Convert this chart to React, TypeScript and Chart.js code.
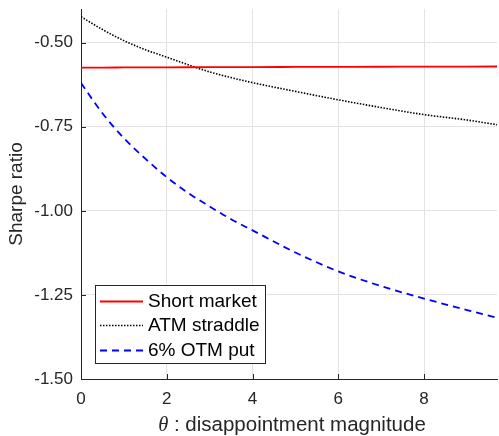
import React, { useEffect, useRef } from 'react';
import { Chart, registerables } from 'chart.js';

Chart.register(...registerables);

// ---- data ----
const theta = [0, 0.5, 1, 1.5, 2, 2.5, 3, 3.5, 4, 5, 6, 7, 8, 9, 9.7];
const shortMarket = [-0.574, -0.574, -0.5738, -0.5736, -0.5734, -0.5732, -0.573, -0.5728, -0.5726, -0.5723, -0.572, -0.5717, -0.5715, -0.5712, -0.571];
const atmStraddle = [-0.423, -0.461, -0.494, -0.521, -0.543, -0.566, -0.587, -0.604, -0.619, -0.645, -0.67, -0.693, -0.714, -0.73, -0.744];
const otmPut = [-0.62, -0.71, -0.784, -0.845, -0.9, -0.947, -0.987, -1.025, -1.058, -1.124, -1.18, -1.224, -1.261, -1.295, -1.318];

const seriesLabels = ['Short market', 'ATM straddle', '6% OTM put'];
const xTicks = [0, 2, 4, 6, 8];
const yTicks = [-1.5, -1.25, -1.0, -0.75, -0.5];
const xRange = [0, 9.7];
const yRange = [-1.5, -0.4];
const yTitle = 'Sharpe ratio';
const xTitleSymbol = 'θ';
const xTitleRest = ' : disappointment magnitude';

const SANS = '"Liberation Sans", Arial, Helvetica, sans-serif';
const AXIS = '#262626';

const colors = ['#ff0000', '#000000', '#0000ff'];
const dashes: number[][] = [[], [1.5, 1.5], [7, 5]];
const widths = [1.8, 1.6, 1.8];

const decorPlugin = {
  id: 'decor',
  afterDatasetsDraw(chart: any) {
    const { ctx, chartArea } = chart;
    // legend box
    const bx = chartArea.left + 14;
    const by = chartArea.bottom - 94;
    const bw = 171;
    const bh = 79;
    ctx.save();
    ctx.fillStyle = '#ffffff';
    ctx.fillRect(bx, by, bw, bh);
    ctx.strokeStyle = AXIS;
    ctx.lineWidth = 1;
    ctx.setLineDash([]);
    ctx.strokeRect(bx + 0.5, by + 0.5, bw - 1, bh - 1);
    const rows = [16, 40, 65];
    ctx.font = `19px ${SANS}`;
    ctx.textBaseline = 'middle';
    ctx.textAlign = 'left';
    seriesLabels.forEach((lab, i) => {
      const yy = by + rows[i] + 0.5;
      ctx.beginPath();
      ctx.strokeStyle = colors[i];
      ctx.lineWidth = widths[i];
      ctx.setLineDash(dashes[i]);
      ctx.moveTo(bx + 5, yy);
      ctx.lineTo(bx + 48, yy);
      ctx.stroke();
      ctx.setLineDash([]);
      ctx.fillStyle = '#000000';
      ctx.fillText(lab, bx + 53, yy);
    });
    ctx.restore();
  },
  afterDraw(chart: any) {
    const { ctx, chartArea, scales } = chart;
    ctx.save();
    ctx.strokeStyle = AXIS;
    ctx.lineWidth = 1;
    ctx.setLineDash([]);
    // inward tick marks
    xTicks.forEach((v) => {
      const px = Math.round(scales.x.getPixelForValue(v)) + 0.5;
      ctx.beginPath();
      ctx.moveTo(px, chartArea.bottom);
      ctx.lineTo(px, chartArea.bottom - 5);
      ctx.stroke();
    });
    yTicks.forEach((v) => {
      const py = Math.round(scales.y.getPixelForValue(v)) + 0.5;
      ctx.beginPath();
      ctx.moveTo(chartArea.left, py);
      ctx.lineTo(chartArea.left + 5, py);
      ctx.stroke();
    });
    // x axis title with italic theta
    const sizeT = 20.5;
    ctx.fillStyle = AXIS;
    ctx.textBaseline = 'alphabetic';
    ctx.textAlign = 'left';
    ctx.font = `italic ${sizeT}px "Liberation Serif", "Times New Roman", serif`;
    const w1 = ctx.measureText(xTitleSymbol).width;
    ctx.font = `${sizeT}px ${SANS}`;
    const w2 = ctx.measureText(xTitleRest).width;
    const cx = (chartArea.left + chartArea.right) / 2 + 3;
    const start = cx - (w1 + w2) / 2;
    const baseY = 431;
    ctx.font = `italic ${sizeT}px "Liberation Serif", "Times New Roman", serif`;
    ctx.fillText(xTitleSymbol, start, baseY);
    ctx.font = `${sizeT}px ${SANS}`;
    ctx.fillText(xTitleRest, start + w1, baseY);
    ctx.restore();
  },
};

export default function App() {
  const ref = useRef<HTMLCanvasElement | null>(null);

  useEffect(() => {
    document.body.style.margin = '0';
    const canvas = ref.current;
    if (!canvas) return;
    const chart = new Chart(canvas, {
      type: 'line',
      data: {
        labels: theta,
        datasets: [shortMarket, atmStraddle, otmPut].map((vals, i) => ({
          label: seriesLabels[i],
          data: vals.map((y, k) => ({ x: theta[k], y })),
          borderColor: colors[i],
          backgroundColor: colors[i],
          borderWidth: widths[i],
          borderDash: dashes[i],
          pointRadius: 0,
          fill: false,
          cubicInterpolationMode: 'monotone' as const,
        })),
      },
      options: {
        animation: false,
        responsive: false,
        devicePixelRatio: 1,
        layout: { padding: { left: 0, top: 9, right: 2, bottom: 0 } },
        plugins: {
          legend: { display: false },
          tooltip: { enabled: false },
        },
        scales: {
          x: {
            type: 'linear',
            min: xRange[0],
            max: xRange[1],
            afterFit: (s: any) => { s.height = 57; s.paddingLeft = 0; s.paddingRight = 0; },
            afterBuildTicks: (s: any) => { s.ticks = xTicks.map((v) => ({ value: v })); },
            grid: { color: '#e3e3e3', lineWidth: 1, drawTicks: false },
            border: { color: AXIS, width: 1 },
            ticks: {
              color: AXIS,
              padding: 10,
              maxRotation: 0,
              font: { family: SANS, size: 17, lineHeight: 1.2 },
              callback: (v: any) => String(v),
            },
            title: { display: false },
          },
          y: {
            type: 'linear',
            min: yRange[0],
            max: yRange[1],
            afterFit: (s: any) => { s.width = 81; s.paddingTop = 0; s.paddingBottom = 0; },
            afterBuildTicks: (s: any) => { s.ticks = yTicks.map((v) => ({ value: v })); },
            grid: { color: '#e3e3e3', lineWidth: 1, drawTicks: false },
            border: { color: AXIS, width: 1 },
            ticks: {
              color: AXIS,
              padding: 8,
              font: { family: SANS, size: 17, lineHeight: 1.2 },
              callback: (v: any) => Number(v).toFixed(2),
            },
            title: {
              display: true,
              text: yTitle,
              color: AXIS,
              padding: { top: 5, bottom: 0 },
              font: { family: SANS, size: 19, lineHeight: 1.2 },
            },
          },
        },
      },
      plugins: [decorPlugin],
    });
    return () => chart.destroy();
  }, []);

  return (
    <div style={{ width: 499, height: 436 }}>
      <canvas ref={ref} width={499} height={436} style={{ display: 'block', width: 499, height: 436 }} />
    </div>
  );
}
